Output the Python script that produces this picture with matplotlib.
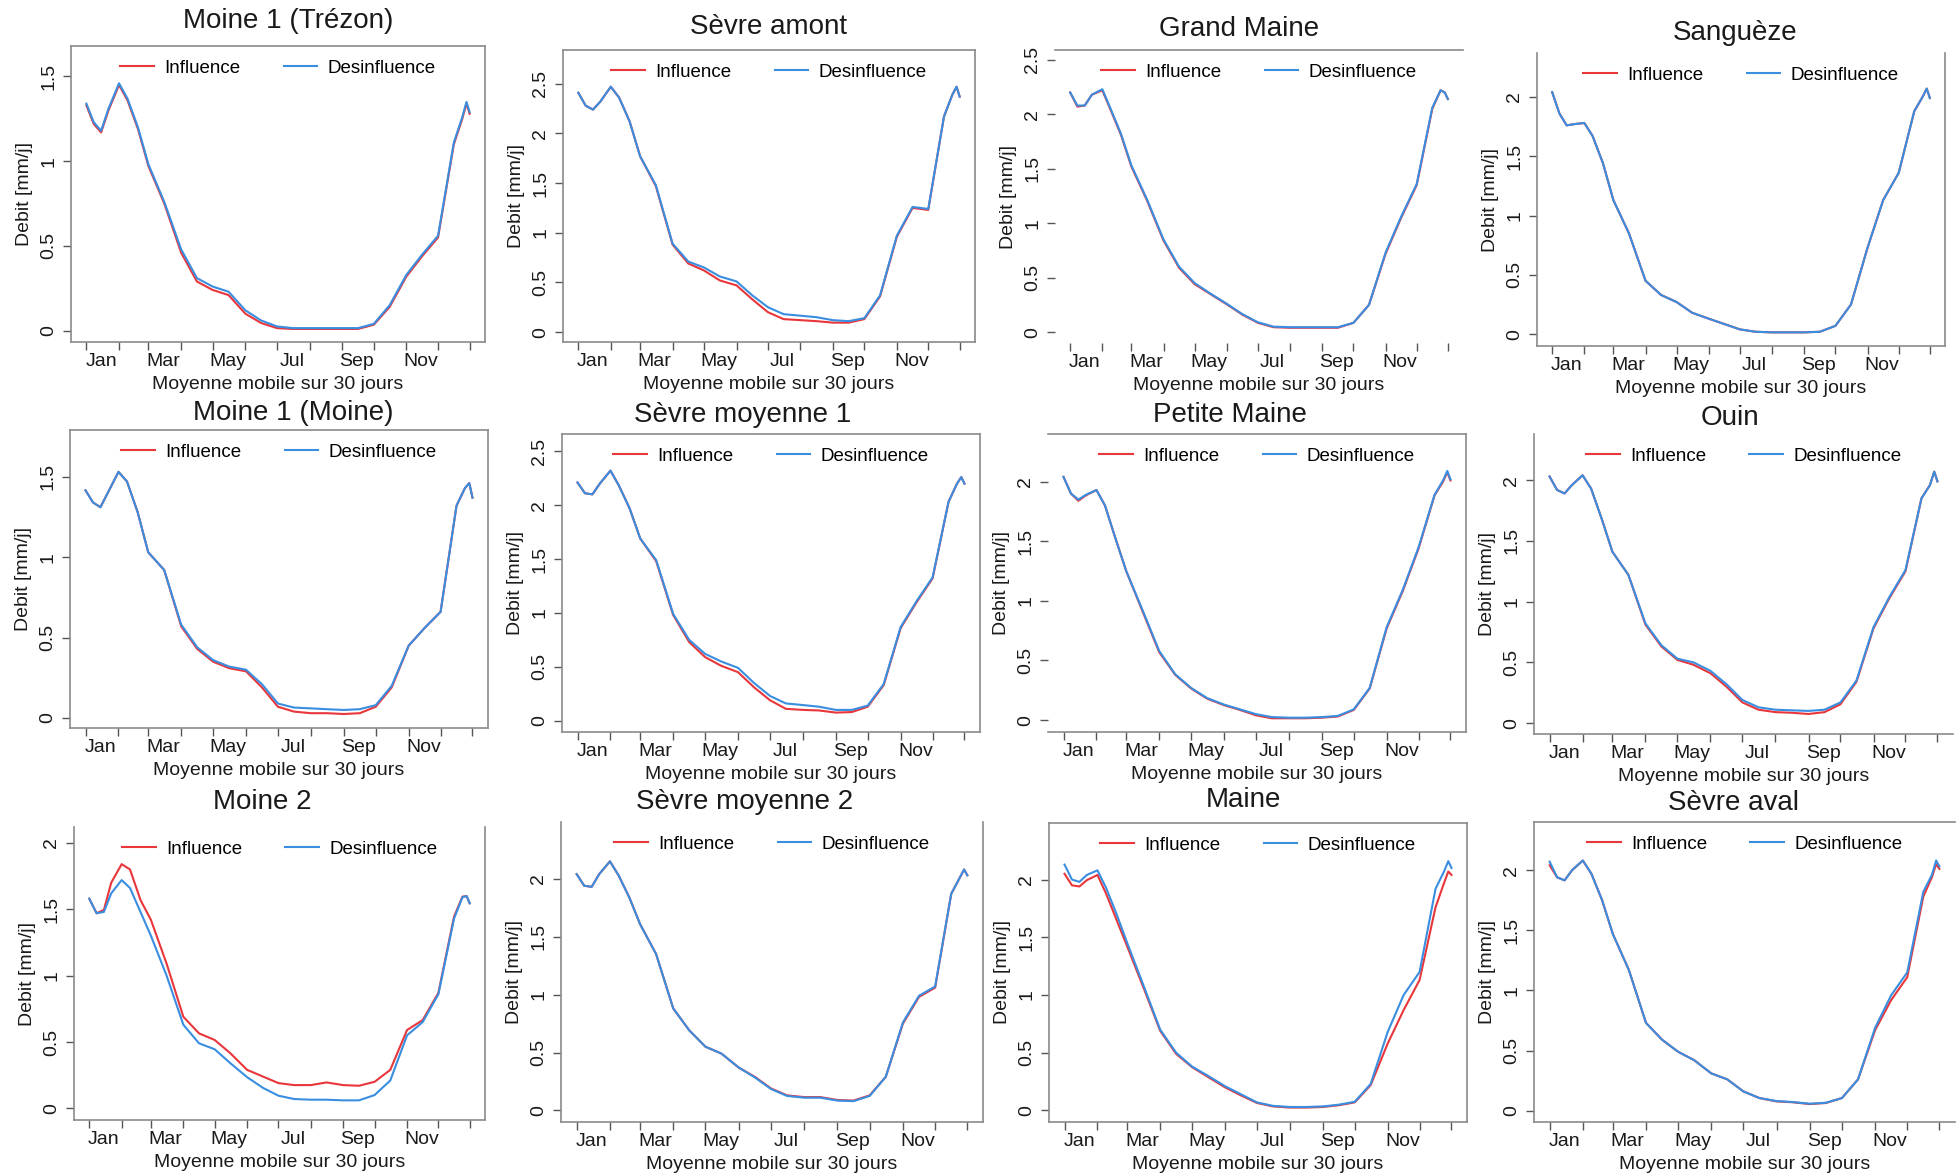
import matplotlib
matplotlib.use("Agg")
import matplotlib.pyplot as plt
from matplotlib.ticker import MultipleLocator, FormatStrFormatter, FixedLocator, NullFormatter

plt.rcParams['font.family'] = ['Liberation Sans', 'DejaVu Sans']

# day of year of each reading (30-day moving average)
DAYS = [1, 8, 15, 22, 32, 40, 50, 60, 75, 91, 106, 121, 136, 152, 167, 182, 197,
        213, 228, 244, 259, 274, 289, 305, 320, 335, 350, 358, 362, 365]

MONTH_STARTS = [1, 32, 60, 91, 121, 152, 182, 213, 244, 274, 305, 335, 365]
LABEL_DAYS = [15, 74, 135, 196, 258, 319]
MONTH_LABELS = ['Jan', 'Mar', 'May', 'Jul', 'Sep', 'Nov']

TITLES = ['Moine 1 (Trézon)', 'Sèvre amont', 'Grand Maine', 'Sanguèze',
          'Moine 1 (Moine)', 'Sèvre moyenne 1', 'Petite Maine', 'Ouin',
          'Moine 2', 'Sèvre moyenne 2', 'Maine', 'Sèvre aval']

trezon_inf = [1.33, 1.22, 1.17, 1.30, 1.45, 1.36, 1.19, 0.97, 0.75, 0.46, 0.29, 0.24, 0.21, 0.10, 0.045,
              0.015, 0.01, 0.01, 0.01, 0.01, 0.01, 0.035, 0.14, 0.32, 0.44, 0.55, 1.10, 1.25, 1.34, 1.28]
trezon_des = [1.34, 1.23, 1.18, 1.31, 1.46, 1.37, 1.20, 0.98, 0.76, 0.48, 0.31, 0.26, 0.23, 0.12, 0.06,
              0.025, 0.015, 0.015, 0.015, 0.015, 0.015, 0.04, 0.15, 0.33, 0.45, 0.56, 1.11, 1.26, 1.35, 1.29]

amont_inf = [2.41, 2.28, 2.24, 2.32, 2.47, 2.36, 2.12, 1.77, 1.47, 0.88, 0.69, 0.62, 0.52, 0.47, 0.33,
             0.20, 0.13, 0.12, 0.11, 0.095, 0.095, 0.13, 0.36, 0.96, 1.25, 1.23, 2.17, 2.39, 2.47, 2.37]
amont_des = [2.41, 2.28, 2.24, 2.32, 2.47, 2.36, 2.12, 1.77, 1.48, 0.89, 0.71, 0.65, 0.56, 0.51, 0.37,
             0.25, 0.18, 0.165, 0.15, 0.12, 0.11, 0.14, 0.37, 0.97, 1.26, 1.24, 2.17, 2.39, 2.47, 2.37]

grand_inf = [2.20, 2.07, 2.08, 2.18, 2.22, 2.04, 1.81, 1.52, 1.21, 0.84, 0.59, 0.44, 0.35, 0.255, 0.16,
             0.085, 0.045, 0.04, 0.04, 0.04, 0.04, 0.085, 0.25, 0.72, 1.05, 1.35, 2.05, 2.22, 2.20, 2.14]
grand_des = [2.20, 2.08, 2.08, 2.18, 2.23, 2.05, 1.82, 1.53, 1.22, 0.85, 0.60, 0.45, 0.355, 0.26, 0.165,
             0.09, 0.05, 0.045, 0.045, 0.045, 0.045, 0.085, 0.25, 0.73, 1.06, 1.36, 2.06, 2.22, 2.20, 2.14]

sangueze_inf = [2.04, 1.86, 1.76, 1.77, 1.78, 1.67, 1.44, 1.13, 0.85, 0.45, 0.33, 0.27, 0.18, 0.13, 0.085,
                0.04, 0.02, 0.015, 0.015, 0.015, 0.02, 0.07, 0.25, 0.73, 1.13, 1.36, 1.88, 2.00, 2.07, 1.99]
sangueze_des = [2.04, 1.86, 1.76, 1.77, 1.78, 1.67, 1.44, 1.13, 0.85, 0.45, 0.33, 0.27, 0.18, 0.13, 0.085,
                0.04, 0.02, 0.015, 0.015, 0.015, 0.02, 0.07, 0.25, 0.73, 1.13, 1.36, 1.88, 2.00, 2.07, 1.99]

moine_inf = [1.415, 1.34, 1.31, 1.40, 1.53, 1.47, 1.28, 1.03, 0.92, 0.57, 0.43, 0.35, 0.31, 0.29, 0.19,
             0.07, 0.04, 0.03, 0.03, 0.025, 0.03, 0.07, 0.19, 0.45, 0.56, 0.66, 1.32, 1.43, 1.46, 1.37]
moine_des = [1.415, 1.34, 1.31, 1.40, 1.53, 1.47, 1.28, 1.03, 0.92, 0.58, 0.44, 0.36, 0.32, 0.30, 0.21,
             0.09, 0.065, 0.06, 0.055, 0.05, 0.055, 0.08, 0.20, 0.45, 0.56, 0.66, 1.32, 1.43, 1.46, 1.37]

sm1_inf = [2.21, 2.11, 2.10, 2.20, 2.32, 2.18, 1.97, 1.69, 1.48, 0.98, 0.73, 0.59, 0.51, 0.45, 0.31,
           0.19, 0.11, 0.10, 0.095, 0.075, 0.08, 0.13, 0.33, 0.86, 1.10, 1.32, 2.03, 2.20, 2.26, 2.20]
sm1_des = [2.21, 2.11, 2.10, 2.20, 2.32, 2.18, 1.97, 1.69, 1.49, 0.99, 0.75, 0.62, 0.55, 0.49, 0.35,
           0.23, 0.16, 0.145, 0.13, 0.10, 0.10, 0.14, 0.34, 0.87, 1.11, 1.33, 2.03, 2.20, 2.26, 2.20]

petite_inf = [2.04, 1.90, 1.84, 1.885, 1.93, 1.80, 1.52, 1.25, 0.92, 0.57, 0.38, 0.265, 0.18, 0.125, 0.085,
              0.04, 0.015, 0.015, 0.015, 0.02, 0.03, 0.085, 0.265, 0.77, 1.08, 1.44, 1.885, 2.00, 2.08, 2.01]
petite_des = [2.04, 1.90, 1.85, 1.89, 1.93, 1.80, 1.52, 1.25, 0.93, 0.58, 0.385, 0.27, 0.185, 0.13, 0.09,
              0.05, 0.025, 0.02, 0.02, 0.025, 0.035, 0.09, 0.27, 0.78, 1.09, 1.45, 1.89, 2.01, 2.09, 2.02]

ouin_inf = [2.03, 1.92, 1.89, 1.96, 2.04, 1.93, 1.68, 1.41, 1.22, 0.81, 0.63, 0.52, 0.48, 0.41, 0.30,
            0.17, 0.11, 0.09, 0.085, 0.075, 0.09, 0.155, 0.34, 0.78, 1.03, 1.25, 1.85, 1.96, 2.07, 1.99]
ouin_des = [2.03, 1.92, 1.89, 1.96, 2.04, 1.93, 1.68, 1.41, 1.22, 0.82, 0.64, 0.53, 0.50, 0.43, 0.32,
            0.19, 0.13, 0.11, 0.105, 0.10, 0.11, 0.17, 0.35, 0.79, 1.04, 1.26, 1.85, 1.96, 2.07, 1.99]

moine2_inf = [1.58, 1.47, 1.495, 1.70, 1.84, 1.80, 1.57, 1.42, 1.09, 0.69, 0.565, 0.515, 0.415, 0.29, 0.24,
              0.19, 0.175, 0.175, 0.195, 0.175, 0.17, 0.20, 0.29, 0.59, 0.665, 0.87, 1.445, 1.595, 1.60, 1.545]
moine2_des = [1.58, 1.47, 1.48, 1.62, 1.72, 1.66, 1.48, 1.30, 1.00, 0.63, 0.49, 0.445, 0.34, 0.235, 0.155,
              0.095, 0.07, 0.065, 0.065, 0.06, 0.06, 0.10, 0.21, 0.55, 0.65, 0.86, 1.43, 1.59, 1.60, 1.545]

sm2_inf = [2.04, 1.94, 1.93, 2.04, 2.15, 2.03, 1.84, 1.61, 1.35, 0.88, 0.69, 0.55, 0.49, 0.37, 0.29,
           0.19, 0.13, 0.115, 0.115, 0.09, 0.085, 0.13, 0.29, 0.75, 0.98, 1.06, 1.87, 2.01, 2.08, 2.03]
sm2_des = [2.04, 1.94, 1.93, 2.04, 2.15, 2.03, 1.84, 1.61, 1.35, 0.88, 0.69, 0.55, 0.49, 0.37, 0.285,
           0.185, 0.125, 0.11, 0.11, 0.085, 0.08, 0.125, 0.29, 0.76, 0.99, 1.07, 1.87, 2.01, 2.08, 2.03]

maine_inf = [2.05, 1.95, 1.94, 1.995, 2.04, 1.88, 1.65, 1.42, 1.07, 0.69, 0.49, 0.375, 0.29, 0.20, 0.13,
             0.065, 0.035, 0.025, 0.025, 0.03, 0.045, 0.07, 0.22, 0.58, 0.87, 1.13, 1.76, 1.97, 2.07, 2.04]
maine_des = [2.13, 2.00, 1.98, 2.04, 2.08, 1.93, 1.70, 1.45, 1.09, 0.70, 0.50, 0.38, 0.30, 0.21, 0.14,
             0.07, 0.04, 0.03, 0.03, 0.035, 0.05, 0.075, 0.23, 0.68, 1.00, 1.20, 1.92, 2.07, 2.16, 2.10]

aval_inf = [2.04, 1.94, 1.915, 2.00, 2.08, 1.97, 1.75, 1.47, 1.17, 0.73, 0.59, 0.49, 0.42, 0.31, 0.26,
            0.16, 0.105, 0.077, 0.07, 0.055, 0.064, 0.105, 0.26, 0.67, 0.92, 1.11, 1.78, 1.94, 2.05, 2.01]
aval_des = [2.07, 1.94, 1.915, 2.00, 2.08, 1.97, 1.75, 1.47, 1.17, 0.73, 0.59, 0.49, 0.42, 0.31, 0.26,
            0.16, 0.105, 0.08, 0.072, 0.058, 0.066, 0.105, 0.26, 0.69, 0.96, 1.15, 1.82, 1.96, 2.08, 2.03]

INFLUENCE = [trezon_inf, amont_inf, grand_inf, sangueze_inf, moine_inf, sm1_inf,
             petite_inf, ouin_inf, moine2_inf, sm2_inf, maine_inf, aval_inf]
DESINFLUENCE = [trezon_des, amont_des, grand_des, sangueze_des, moine_des, sm1_des,
                petite_des, ouin_des, moine2_des, sm2_des, maine_des, aval_des]

# layout, in pixels of the 1957x1176 image: left, top, right, bottom of each plot box
W, H = 1957, 1176
BOXES = [(71, 46, 485, 342), (563, 50, 975, 342), (1055, 50, 1463, 343), (1537, 53, 1945, 346),
         (70, 430, 488, 728), (562, 434, 980, 732), (1048, 434, 1466, 732), (1534, 434, 1953, 734),
         (74, 827, 485, 1120), (561, 822, 983, 1122), (1049, 823, 1467, 1122), (1534, 822, 1955, 1122)]
YLIMS = [(-0.067, 1.68), (-0.10, 2.84), (-0.10, 2.59), (-0.10, 2.37),
         (-0.062, 1.79), (-0.105, 2.66), (-0.10, 2.40), (-0.09, 2.38),
         (-0.088, 2.12), (-0.10, 2.49), (-0.10, 2.49), (-0.094, 2.40)]
TITLE_POS = [(288, 21), (768, 27), (1239, 29), (1735, 33),
             (293, 413), (743, 415), (1230, 415), (1730, 418),
             (262, 802), (745, 802), (1243, 800), (1733, 803)]
SPINES = [('left', 'right', 'top', 'bottom'), ('left', 'right', 'top', 'bottom'), ('top',),
          ('left', 'right', 'bottom'),
          ('left', 'right', 'top', 'bottom'), ('left', 'right', 'top', 'bottom'), ('top', 'right', 'bottom'),
          ('left', 'bottom'),
          ('left', 'right', 'bottom'), ('left', 'right', 'bottom'), ('left', 'right', 'top', 'bottom'),
          ('left', 'top', 'bottom')]

RED = '#e8363b'
BLUE = '#3a8ee0'
TXT = '#1a1a1a'
GREY = '#8a8a8a'
FS = 14

fig = plt.figure(figsize=(W / 100, H / 100), dpi=100)

for i in range(12):
    l, t, r, b = BOXES[i]
    ax = fig.add_axes([l / W, 1 - b / H, (r - l) / W, (b - t) / H])
    ax.plot(DAYS, INFLUENCE[i], color=RED, lw=1.5, label='Influence')
    ax.plot(DAYS, DESINFLUENCE[i], color=BLUE, lw=1.5, label='Desinfluence')

    ax.set_xlim(1 - 14.6, 365 + 14.6)
    ax.set_ylim(*YLIMS[i])

    for side in ('left', 'right', 'top', 'bottom'):
        ax.spines[side].set_visible(side in SPINES[i])
        ax.spines[side].set_color(GREY)
        ax.spines[side].set_linewidth(1.2)

    ax.xaxis.set_major_locator(FixedLocator(MONTH_STARTS))
    ax.xaxis.set_major_formatter(NullFormatter())
    ax.set_xticks(LABEL_DAYS, MONTH_LABELS, minor=True)
    ax.tick_params(axis='x', which='major', direction='out', length=6, width=1, color='#555555')
    ax.tick_params(axis='x', which='minor', length=0, pad=8, labelsize=FS, labelcolor=TXT)

    ax.yaxis.set_major_locator(MultipleLocator(0.5))
    ax.yaxis.set_major_formatter(FormatStrFormatter('%g'))
    ax.tick_params(axis='y', direction='out', length=6, width=1, color='#555555',
                   labelsize=FS, labelcolor=TXT, pad=4)
    for lab in ax.get_yticklabels():
        lab.set_rotation(90)
        lab.set_va('center')

    ax.set_xlabel('Moyenne mobile sur 30 jours', fontsize=FS, color=TXT, labelpad=4)
    ax.set_ylabel('Debit [mm/j]', fontsize=FS, color=TXT, labelpad=5)

    ax.legend(loc='center', bbox_to_anchor=(0.5, 1 - 22 / (b - t)), ncol=2, frameon=False,
              fontsize=13.5, handlelength=1.8, handletextpad=0.55, columnspacing=2.3)

    tx, ty = TITLE_POS[i]
    fig.text(tx / W, 1 - ty / H, TITLES[i], ha='center', va='center', fontsize=20, color=TXT)

fig.savefig('out.png', dpi=100, facecolor='white')
